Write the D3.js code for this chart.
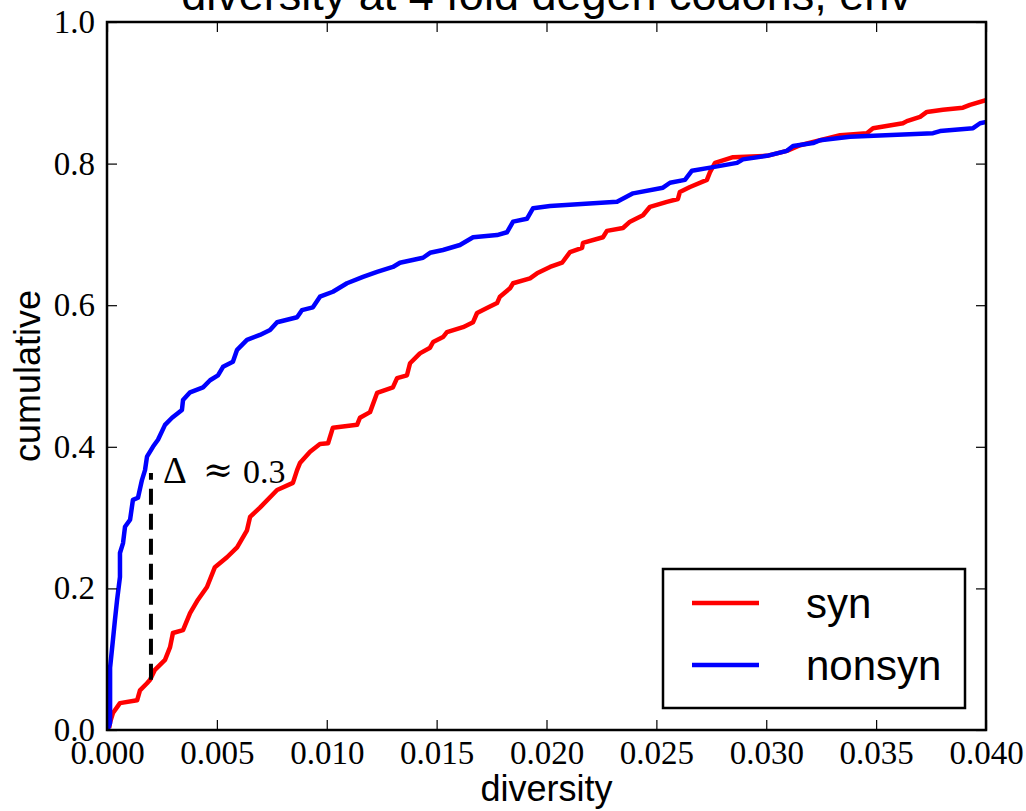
<!DOCTYPE html>
<html>
<head>
<meta charset="utf-8">
<script src="https://cdn.jsdelivr.net/npm/d3@7"></script>
<style>
  body { margin: 0; background: white; }
  .tick text { font-family: "Liberation Serif", serif; }
</style>
</head>
<body>
<div class="cdf-chart"></div>
<script>
// frame size and plot margins
let FRAME_WIDTH = 1026;
let FRAME_HEIGHT = 811;
let MARGINS = {left: 107, right: 40, top: 22, bottom: 81};

const PLOT_WIDTH = FRAME_WIDTH - MARGINS.left - MARGINS.right;
const PLOT_HEIGHT = FRAME_HEIGHT - MARGINS.top - MARGINS.bottom;

// data: sorted diversity vs cumulative fraction
const synDiversity = [0.0001, 0.00014, 0.00027, 0.00059, 0.00137, 0.00150, 0.00182, 0.00196, 0.00218, 0.00264,
  0.00287, 0.00300, 0.00346, 0.00378, 0.00414, 0.00455, 0.00491, 0.00546, 0.00592, 0.00637,
  0.00651, 0.00696, 0.00774, 0.00846, 0.00865, 0.00878, 0.00924, 0.00969, 0.01006, 0.01028,
  0.01138, 0.01151, 0.01197, 0.01229, 0.01301, 0.01320, 0.01365, 0.01379, 0.01424, 0.01470,
  0.01484, 0.01529, 0.01547, 0.01620, 0.01666, 0.01684, 0.01729, 0.01775, 0.01788, 0.01834,
  0.01848, 0.01925, 0.01957, 0.02016, 0.02071, 0.02107, 0.02162, 0.02166, 0.02257, 0.02275,
  0.02348, 0.02380, 0.02439, 0.02471, 0.02548, 0.02598, 0.02607, 0.02653, 0.02730, 0.02744,
  0.02767, 0.02849, 0.03003, 0.03094, 0.03154, 0.03245, 0.03336, 0.03458, 0.03486, 0.03622,
  0.03640, 0.03700, 0.03731, 0.03804, 0.03895, 0.03927, 0.04005];
const synCumulative = [0.003, 0.011, 0.024, 0.038, 0.042, 0.056, 0.066, 0.071, 0.085, 0.099,
  0.117, 0.137, 0.141, 0.165, 0.184, 0.202, 0.230, 0.244, 0.258, 0.282,
  0.301, 0.314, 0.339, 0.349, 0.367, 0.377, 0.393, 0.404, 0.405, 0.427,
  0.431, 0.441, 0.449, 0.476, 0.484, 0.497, 0.501, 0.518, 0.532, 0.540,
  0.548, 0.555, 0.562, 0.569, 0.576, 0.589, 0.596, 0.603, 0.612, 0.624,
  0.631, 0.638, 0.645, 0.654, 0.660, 0.675, 0.681, 0.688, 0.696, 0.705,
  0.709, 0.718, 0.727, 0.739, 0.746, 0.750, 0.760, 0.767, 0.777, 0.788,
  0.801, 0.809, 0.811, 0.818, 0.826, 0.833, 0.840, 0.843, 0.850, 0.857,
  0.860, 0.866, 0.873, 0.876, 0.879, 0.883, 0.890];

const nonsynDiversity = [0.00003, 0.00014, 0.00014, 0.00027, 0.00036, 0.00046, 0.00059, 0.00059, 0.00073, 0.00082,
  0.00105, 0.00118, 0.00141, 0.00159, 0.00173, 0.00182, 0.00209, 0.00232, 0.00264, 0.00296,
  0.00341, 0.00346, 0.00378, 0.00437, 0.00469, 0.00505, 0.00528, 0.00573, 0.00592, 0.00637,
  0.00696, 0.00742, 0.00774, 0.00865, 0.00887, 0.00937, 0.00969, 0.01028, 0.01092, 0.01165,
  0.01229, 0.01301, 0.01333, 0.01438, 0.01470, 0.01529, 0.01606, 0.01666, 0.01775, 0.01820,
  0.01848, 0.01911, 0.01939, 0.02016, 0.02321, 0.02394, 0.02530, 0.02562, 0.02630, 0.02662,
  0.02758, 0.02867, 0.02894, 0.03003, 0.03094, 0.03122, 0.03213, 0.03245, 0.03381, 0.03759,
  0.03791, 0.03941, 0.03973, 0.04005];
const nonsynCumulative = [0.0, 0.010, 0.088, 0.127, 0.155, 0.184, 0.216, 0.250, 0.264, 0.287,
  0.297, 0.325, 0.328, 0.353, 0.367, 0.386, 0.400, 0.410, 0.431, 0.441,
  0.452, 0.466, 0.477, 0.484, 0.494, 0.501, 0.513, 0.520, 0.537, 0.551,
  0.558, 0.565, 0.576, 0.583, 0.593, 0.597, 0.612, 0.619, 0.631, 0.640,
  0.647, 0.654, 0.660, 0.667, 0.674, 0.678, 0.685, 0.696, 0.699, 0.703,
  0.718, 0.722, 0.737, 0.740, 0.746, 0.758, 0.766, 0.773, 0.777, 0.790,
  0.795, 0.801, 0.806, 0.811, 0.818, 0.825, 0.829, 0.833, 0.838, 0.843,
  0.846, 0.850, 0.857, 0.859];

// tick labels
const xTicks = [0.000, 0.005, 0.010, 0.015, 0.020, 0.025, 0.030, 0.035, 0.040];
const yTicks = [0.0, 0.2, 0.4, 0.6, 0.8, 1.0];

// delta marker (dashed line at diversity 0.002)
const deltaX = [0.002];
const deltaY = [0.071, 0.363];

const seriesNames = ["syn", "nonsyn"];
const seriesColors = ["#ff0000", "#0000ff"];

let FRAME = d3.select('.cdf-chart')
  .append("svg")
  .attr("width", FRAME_WIDTH)
  .attr("height", FRAME_HEIGHT);

FRAME.append("rect")
  .attr("width", FRAME_WIDTH)
  .attr("height", FRAME_HEIGHT)
  .attr("fill", "white");

const xScale = d3.scaleLinear().domain([0, 0.04]).range([0, PLOT_WIDTH]);
const yScale = d3.scaleLinear().domain([0, 1]).range([PLOT_HEIGHT, 0]);

let plot = FRAME.append("g")
  .attr("transform", "translate(" + MARGINS.left + "," + MARGINS.top + ")");

plot.append("clipPath")
  .attr("id", "clip")
  .append("rect")
  .attr("width", PLOT_WIDTH)
  .attr("height", PLOT_HEIGHT);

// curves
const line = d3.line()
  .x((d) => xScale(d[0]))
  .y((d) => yScale(d[1]));

let synPoints = synDiversity.map((d, i) => [d, synCumulative[i]]);
let nonsynPoints = nonsynDiversity.map((d, i) => [d, nonsynCumulative[i]]);

plot.append("g")
  .attr("clip-path", "url(#clip)")
  .selectAll("path")
  .data([synPoints, nonsynPoints])
  .enter()
  .append("path")
  .attr("d", line)
  .attr("fill", "none")
  .attr("stroke", (d, i) => seriesColors[i])
  .attr("stroke-width", 4.5)
  .attr("stroke-linejoin", "round");

// dashed delta line + label
plot.append("line")
  .attr("x1", xScale(deltaX[0]))
  .attr("x2", xScale(deltaX[0]))
  .attr("y1", yScale(deltaY[0]))
  .attr("y2", yScale(deltaY[1]))
  .attr("stroke", "black")
  .attr("stroke-width", 4)
  .attr("stroke-dasharray", "16,9");

let lx = xScale(deltaX[0]);
let ly = yScale(deltaY[1]) + 10;
let deltaLabel = plot.append("g")
  .attr("font-family", "Liberation Serif, serif");
deltaLabel.append("text").attr("x", lx + 12).attr("y", ly)
  .attr("font-size", "37px").text("\u0394");
deltaLabel.append("text").attr("x", lx + 52).attr("y", ly - 1)
  .attr("font-family", "DejaVu Serif, serif")
  .attr("font-size", "36px").text("\u2248");
deltaLabel.append("text").attr("x", lx + 92).attr("y", ly)
  .attr("font-size", "34px").text("0.3");

// axes, ticks point inward on all sides
plot.append("g")
  .attr("transform", "translate(0," + PLOT_HEIGHT + ")")
  .call(d3.axisBottom(xScale).tickValues(xTicks).tickFormat(d3.format(".3f"))
    .tickSize(-10).tickPadding(11))
  .attr("font-size", "33px");

plot.append("g")
  .call(d3.axisLeft(yScale).tickValues(yTicks).tickFormat(d3.format(".1f"))
    .tickSize(-10).tickPadding(12))
  .attr("font-size", "33px");

plot.append("g")
  .call(d3.axisTop(xScale).tickValues(xTicks).tickFormat("").tickSize(-10));

plot.append("g")
  .attr("transform", "translate(" + PLOT_WIDTH + ",0)")
  .call(d3.axisRight(yScale).tickValues(yTicks).tickFormat("").tickSize(-10));

plot.selectAll(".domain").remove();
plot.selectAll(".tick line").attr("stroke", "black").attr("stroke-width", 1.2);

plot.append("rect")
  .attr("width", PLOT_WIDTH)
  .attr("height", PLOT_HEIGHT)
  .attr("fill", "none")
  .attr("stroke", "black")
  .attr("stroke-width", 2.5);

// axis labels and title
FRAME.append("text")
  .attr("x", MARGINS.left + PLOT_WIDTH / 2)
  .attr("y", 801)
  .attr("text-anchor", "middle")
  .attr("font-family", "Liberation Sans, Arial, sans-serif")
  .attr("font-size", "36px")
  .text("diversity");

FRAME.append("text")
  .attr("transform", "translate(40," + (MARGINS.top + PLOT_HEIGHT / 2) + ") rotate(-90)")
  .attr("text-anchor", "middle")
  .attr("font-family", "Liberation Sans, Arial, sans-serif")
  .attr("font-size", "36px")
  .text("cumulative");

FRAME.append("text")
  .attr("x", MARGINS.left + PLOT_WIDTH / 2)
  .attr("y", 10)
  .attr("text-anchor", "middle")
  .attr("font-family", "Liberation Sans, Arial, sans-serif")
  .attr("font-size", "45px")
  .text("diversity at 4 fold degen codons, env");

// legend
let legend = FRAME.append("g")
  .attr("transform", "translate(663,569)");

legend.append("rect")
  .attr("width", 302)
  .attr("height", 139)
  .attr("fill", "white")
  .attr("stroke", "black")
  .attr("stroke-width", 2.5);

let items = legend.selectAll(".item")
  .data(seriesNames)
  .enter()
  .append("g")
  .attr("class", "item")
  .attr("transform", (d, i) => "translate(0," + (34 + i * 62) + ")");

items.append("line")
  .attr("x1", 29)
  .attr("x2", 96)
  .attr("stroke", (d, i) => seriesColors[i])
  .attr("stroke-width", 4.5);

items.append("text")
  .attr("x", 143)
  .attr("y", 15)
  .attr("font-family", "Liberation Sans, Arial, sans-serif")
  .attr("font-size", "42px")
  .text((d) => d);
</script>
</body>
</html>
